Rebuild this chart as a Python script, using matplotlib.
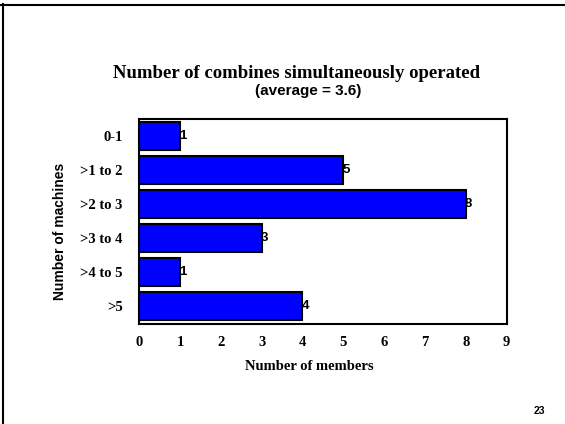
import matplotlib
matplotlib.use('Agg')
import matplotlib.pyplot as plt
from matplotlib.lines import Line2D

# data
categories = ['0-1', '>1 to 2', '>2 to 3', '>3 to 4', '>4 to 5', '>5']
members = [1, 5, 8, 3, 1, 4]
x_ticks = [0, 1, 2, 3, 4, 5, 6, 7, 8, 9]

serif = 'Liberation Serif'
sans = 'Liberation Sans'

fig = plt.figure(figsize=(5.65, 4.24), dpi=100)
ax = fig.add_axes([0.2465, 0.237, 0.65, 0.4823])

ypos = list(range(len(categories)))
ax.barh(ypos, members, height=0.82, color='#0000ff',
        edgecolor='black', linewidth=1.5)

for y, v in zip(ypos, members):
    ax.annotate(str(v), xy=(v, y), xytext=(-0.5, 0), textcoords='offset points',
                ha='left', va='center', fontsize=9.5, fontweight='bold',
                family=sans)

ax.set_xlim(0, 9)
ax.set_ylim(len(categories) - 0.5, -0.5)
ax.set_xticks(x_ticks)
ax.set_xticklabels([str(t) for t in x_ticks], family=serif,
                   fontweight='bold', fontsize=10.5)
ax.set_yticks(ypos)
ax.set_yticklabels(categories, family=serif, fontweight='bold', fontsize=10.5)
ax.tick_params(axis='both', length=0)
ax.tick_params(axis='y', pad=12)
ax.tick_params(axis='x', pad=9)
for s in ax.spines.values():
    s.set_linewidth(1.5)

# titles and axis labels
fig.text(297 / 565, 1 - 74 / 424, 'Number of combines simultaneously operated',
         ha='center', va='center', family=serif, fontweight='bold',
         fontsize=13.5)
fig.text(308 / 565, 1 - 91 / 424, '(average = 3.6)', ha='center',
         va='center', family=sans, fontweight='bold', fontsize=11)
fig.text(309 / 565, 1 - 367 / 424, 'Number of members', ha='center',
         va='center', family=serif, fontweight='bold', fontsize=10.5)
fig.text(60.5 / 565, 1 - 231 / 424, 'Number of machines', ha='center',
         va='center', rotation=90, family=sans, fontweight='bold',
         fontsize=10)
fig.text(539 / 565, 1 - 411 / 424, '23', ha='center', va='center',
         family=sans, fontweight='bold', fontsize=7.5)

# slide frame (top and left edges only)
fig.add_artist(Line2D([1 / 565, 1], [1 - 5 / 424, 1 - 5 / 424],
                      transform=fig.transFigure, color='black', linewidth=1.5))
fig.add_artist(Line2D([2.5 / 565, 2.5 / 565], [0, 1 - 4 / 424],
                      transform=fig.transFigure, color='black', linewidth=1.5))

fig.savefig('out.png', dpi=100)
